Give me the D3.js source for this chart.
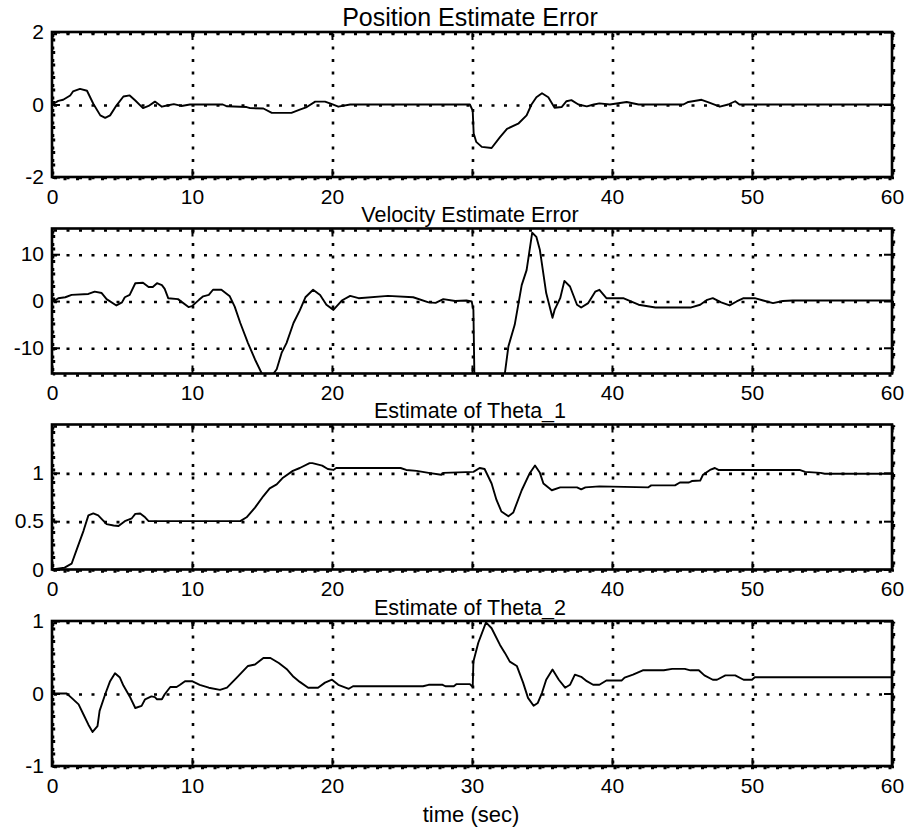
<!DOCTYPE html>
<html>
<head>
<meta charset="utf-8">
<script src="https://cdn.jsdelivr.net/npm/d3@7"></script>
<style>
  html, body { margin: 0; padding: 0; background: #fff; }
  svg { display: block; }
  text { font-family: "Liberation Sans", Arial, Helvetica, sans-serif; fill: #000; }
</style>
</head>
<body>
<svg id="chart" width="906" height="830"></svg>
<script>
// ---------------- data ----------------
const xTicks = [0, 10, 20, 30, 40, 50, 60];
const xTickLabelsUpper = ["0", "10", "20", "", "40", "50", "60"];
const xTickLabelsLower = ["0", "10", "20", "30", "40", "50", "60"];

const titles = ["Position Estimate Error", "Velocity Estimate Error", "Estimate of Theta_1", "Estimate of Theta_2"];
const xLabel = "time (sec)";

const yDomains = [[-2, 2], [-15.5, 15.5], [0, 1.5], [-1, 1]];
const yTicks = [[-2, 0, 2], [-10, 0, 10], [0, 0.5, 1], [-1, 0, 1]];
const yTickLabels = [["-2", "0", "2"], ["-10", "0", "10"], ["0", "0.5", "1"], ["-1", "0", "1"]];

const positionError = [[0,0],[0.45,0.1],[0.8,0.13],[1.3,0.25],[1.5,0.36],[2.0,0.43],[2.5,0.38],[2.95,0.02],[3.45,-0.3],[3.8,-0.37],[4.15,-0.3],[4.6,-0.03],[5.1,0.22],[5.55,0.25],[5.95,0.11],[6.5,-0.1],[6.9,-0.04],[7.35,0.08],[7.85,-0.06],[8.3,-0.02],[8.7,0.01],[9.25,-0.04],[9.85,0],[12.2,0],[12.5,-0.05],[13.9,-0.07],[14.15,-0.1],[15.1,-0.11],[15.7,-0.23],[17.1,-0.23],[17.7,-0.14],[18.2,-0.07],[18.8,0.08],[19.5,0.08],[20.0,0.01],[20.45,-0.06],[21.3,0],[29.85,0],[30.05,-0.17],[30.12,-0.8],[30.3,-1.03],[30.7,-1.17],[31.4,-1.2],[32.0,-0.9],[32.5,-0.67],[33.3,-0.53],[33.9,-0.3],[34.25,0],[34.6,0.2],[35.0,0.31],[35.45,0.2],[35.9,-0.09],[36.4,-0.07],[36.75,0.09],[37.1,0.12],[37.6,0],[38.2,-0.05],[38.7,0],[39.1,0.03],[39.85,0],[41.05,0.07],[41.9,0],[45.1,0],[45.45,0.07],[46.4,0.13],[46.9,0.06],[47.7,-0.06],[48.3,0],[48.8,0.09],[49.1,0],[60,0]];

const velocityError = [[0,0],[0.2,0.1],[0.45,0.6],[0.95,0.8],[1.4,1.3],[2.6,1.5],[3.05,2.0],[3.55,1.7],[3.9,0.4],[4.6,-0.95],[5.0,-0.3],[5.2,0.8],[5.55,1.3],[5.95,3.8],[6.5,3.9],[6.9,3.0],[7.2,3.0],[7.5,3.8],[7.85,3.4],[8.05,2.6],[8.3,0.6],[9.0,0.4],[9.75,-1.3],[10.0,-1.1],[10.5,0.25],[10.8,1.0],[11.2,1.3],[11.5,2.4],[12.1,2.4],[12.7,1.0],[13.05,-1.2],[13.45,-4.7],[14.0,-9.0],[14.5,-12.5],[15.0,-15.6],[15.4,-17.5],[15.75,-15.8],[16.05,-14.6],[16.4,-11.1],[16.75,-9.0],[17.25,-4.7],[17.7,-2.0],[18.1,0.8],[18.65,2.4],[19.15,1.3],[19.6,-0.8],[20.1,-1.9],[20.7,0.1],[21.3,1.1],[21.9,0.6],[24.0,1.1],[25.8,0.8],[26.9,-0.3],[27.4,-0.4],[27.95,0.4],[28.8,0],[29.6,0.1],[29.98,-0.1],[30.1,-1.9],[30.2,-22],[32.15,-20],[32.6,-9.7],[33.05,-5.1],[33.55,3.4],[33.9,6.6],[34.3,14.6],[34.6,13.7],[34.85,10.9],[35.3,1.7],[35.75,-3.6],[35.9,-1.9],[36.3,0.6],[36.6,4.3],[37.0,3.1],[37.5,-0.8],[37.8,-1.4],[38.3,-0.45],[38.8,2.0],[39.1,2.4],[39.6,0.6],[40.8,0.6],[41.9,-0.8],[43.1,-1.4],[45.6,-1.4],[46.3,-0.8],[46.8,0.25],[47.2,0.6],[47.8,-0.3],[48.4,-0.95],[48.9,-0.1],[49.4,0.6],[50.2,0.6],[50.8,0.1],[51.5,-0.45],[52.2,0],[52.9,0.1],[60,0.1]];

const theta1 = [[0,0],[0.9,0.02],[1.4,0.06],[1.75,0.2],[2.25,0.4],[2.6,0.56],[2.95,0.58],[3.3,0.56],[3.9,0.47],[4.4,0.455],[4.75,0.45],[5.2,0.5],[5.7,0.53],[5.95,0.575],[6.3,0.58],[6.65,0.54],[6.9,0.5],[13.45,0.5],[13.9,0.54],[14.5,0.64],[15.1,0.76],[15.55,0.84],[16.05,0.88],[16.5,0.95],[17.2,1.02],[17.7,1.05],[18.4,1.10],[18.6,1.10],[19.3,1.075],[19.7,1.04],[20.1,1.03],[20.3,1.05],[24.9,1.05],[25.3,1.03],[26.05,1.02],[26.9,1.0],[27.8,0.98],[27.95,1.0],[30.1,1.01],[30.55,1.05],[30.9,1.04],[31.4,0.89],[31.75,0.72],[32.1,0.6],[32.6,0.55],[32.95,0.59],[33.55,0.82],[34.1,0.99],[34.5,1.075],[34.85,1.0],[35.1,0.89],[35.7,0.82],[36.3,0.85],[37.5,0.85],[37.8,0.83],[38.1,0.85],[39.1,0.86],[42.6,0.85],[42.8,0.87],[44.5,0.87],[44.85,0.9],[45.5,0.9],[45.7,0.915],[46.3,0.92],[46.5,0.98],[47.0,1.03],[47.35,1.05],[47.6,1.03],[53.4,1.03],[53.8,1.01],[54.9,1.0],[55.2,0.99],[60,0.99]];

const theta2 = [[0,0],[1.05,0],[1.4,-0.06],[1.9,-0.15],[2.25,-0.29],[2.6,-0.43],[2.9,-0.53],[3.25,-0.45],[3.4,-0.24],[3.8,-0.01],[4.15,0.17],[4.5,0.28],[4.85,0.22],[5.1,0.11],[5.55,-0.04],[5.95,-0.2],[6.4,-0.17],[6.65,-0.08],[7.1,-0.04],[7.35,-0.05],[7.5,-0.08],[7.85,-0.08],[8.05,-0.01],[8.45,0.09],[8.9,0.09],[9.15,0.12],[9.5,0.17],[10.0,0.17],[10.55,0.12],[11.2,0.08],[12.0,0.05],[12.5,0.08],[13.2,0.22],[14.0,0.38],[14.5,0.4],[15.1,0.49],[15.6,0.49],[16.2,0.42],[16.8,0.33],[17.25,0.23],[17.7,0.16],[18.3,0.08],[19.0,0.08],[19.5,0.15],[20.0,0.19],[20.45,0.12],[21.2,0.065],[21.5,0.1],[26.5,0.1],[26.9,0.12],[27.9,0.12],[28.1,0.1],[28.7,0.1],[28.9,0.13],[29.85,0.13],[30.05,0.09],[30.1,0.44],[30.45,0.7],[31.0,0.98],[31.4,0.9],[32.0,0.67],[32.35,0.56],[32.7,0.44],[33.2,0.38],[33.65,0.15],[34.0,-0.06],[34.4,-0.17],[34.7,-0.13],[35.0,0.01],[35.3,0.19],[35.75,0.33],[36.2,0.19],[36.65,0.08],[37.0,0.12],[37.35,0.26],[37.8,0.23],[38.2,0.17],[38.65,0.12],[39.1,0.12],[39.6,0.18],[40.7,0.18],[40.9,0.22],[41.5,0.26],[42.2,0.32],[43.7,0.32],[44.3,0.34],[45.2,0.34],[45.6,0.32],[46.2,0.32],[46.6,0.25],[47.2,0.19],[47.5,0.19],[48.1,0.25],[48.8,0.25],[49.4,0.19],[50.0,0.19],[50.2,0.225],[60,0.225]];

const series = [positionError, velocityError, theta1, theta2];

// ---------------- layout ----------------
const svg = d3.select("#chart");
const left = 52, right = 892;
const panelTops = [32, 228.5, 424.5, 621];
const panelH = 145;
const titleSizes = [25, 21.5, 21.5, 21.5];

const x = d3.scaleLinear().domain([0, 60]).range([left, right]);

panelTops.forEach((top, i) => {
  const bottom = top + panelH;
  const y = d3.scaleLinear().domain(yDomains[i]).range([bottom, top]);
  const g = svg.append("g");

  const clipId = "clip" + i;
  svg.append("clipPath").attr("id", clipId)
    .append("rect").attr("x", left).attr("y", top).attr("width", right - left).attr("height", panelH);

  // dotted grid
  const dash = "3,9.5";
  g.selectAll(".vgrid").data(xTicks).enter().append("line")
    .attr("x1", d => x(d) + 1).attr("x2", d => x(d) + 1)
    .attr("y1", top + 2).attr("y2", bottom + 2)
    .attr("stroke", "#000").attr("stroke-width", 2.6).attr("stroke-dasharray", dash);
  g.selectAll(".hgrid").data(yTicks[i]).enter().append("line")
    .attr("x1", left + 2).attr("x2", right + 2)
    .attr("y1", d => y(d) + 1).attr("y2", d => y(d) + 1)
    .attr("stroke", "#000").attr("stroke-width", 2.6).attr("stroke-dasharray", dash);
  g.append("rect").attr("x", left + 2).attr("y", top + 2).attr("width", right - left).attr("height", panelH)
    .attr("fill", "none").attr("stroke", "#000").attr("stroke-width", 2.4).attr("stroke-dasharray", dash);

  // data line
  const line = d3.line().x(d => x(d[0])).y(d => y(d[1]));
  g.append("path").datum(series[i])
    .attr("clip-path", "url(#" + clipId + ")")
    .attr("d", line).attr("fill", "none").attr("stroke", "#000")
    .attr("stroke-width", 1.9).attr("stroke-linejoin", "round");

  // axes with inward ticks
  const xb = d3.axisBottom(x).tickValues(xTicks)
    .tickFormat((d, k) => (i < 3 ? xTickLabelsUpper : xTickLabelsLower)[k])
    .tickSizeInner(-8).tickSizeOuter(0).tickPadding(12);
  const xt = d3.axisTop(x).tickValues(xTicks).tickFormat("").tickSizeInner(-8).tickSizeOuter(0);
  const yl = d3.axisLeft(y).tickValues(yTicks[i])
    .tickFormat((d, k) => yTickLabels[i][k])
    .tickSizeInner(-8).tickSizeOuter(0).tickPadding(8);
  const yr = d3.axisRight(y).tickValues(yTicks[i]).tickFormat("").tickSizeInner(-8).tickSizeOuter(0);

  const gb = g.append("g").attr("transform", `translate(0,${bottom})`).call(xb);
  const gt = g.append("g").attr("transform", `translate(0,${top})`).call(xt);
  const gl = g.append("g").attr("transform", `translate(${left},0)`).call(yl);
  const gr = g.append("g").attr("transform", `translate(${right},0)`).call(yr);
  [gb, gt, gl, gr].forEach(a => {
    a.select(".domain").remove();
    a.selectAll(".tick line").attr("stroke", "#000").attr("stroke-width", 2);
    a.selectAll("text").attr("font-size", 21).attr("fill", "#000")
      .attr("font-family", "'Liberation Sans', Arial, sans-serif");
  });

  // box
  g.append("rect").attr("x", left).attr("y", top).attr("width", right - left).attr("height", panelH)
    .attr("fill", "none").attr("stroke", "#000").attr("stroke-width", 2.6);

  // title
  svg.append("text").attr("x", 470).attr("y", top - 6.5)
    .attr("text-anchor", "middle").attr("font-size", titleSizes[i]).text(titles[i]);
});

svg.append("text").attr("x", 471).attr("y", 822)
  .attr("text-anchor", "middle").attr("font-size", 22).text(xLabel);
</script>
</body>
</html>
